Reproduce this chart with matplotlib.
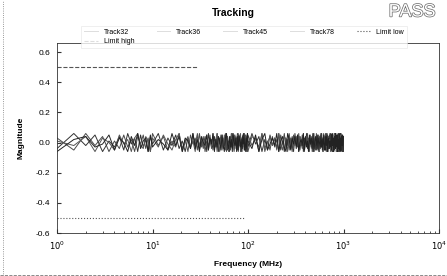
import numpy as np
import matplotlib
matplotlib.use("Agg")
import matplotlib.pyplot as plt
import matplotlib.patheffects as pe
from matplotlib.lines import Line2D

plt.rcParams['font.family'] = ['Liberation Sans', 'DejaVu Sans']

# ---------------------------------------------------------------- data
# sweep grid (MHz)
freq_mhz = np.concatenate([np.arange(1, 10, 0.5), np.arange(10, 100, 1.5), np.arange(100, 1001, 10)])

# magnitudes in hundredths
track32_c = [3, -5, 6, -2, 4, -6, 1, -4, 5, -3, 2, -6, 4,
             -1, 5, -4, 3, -6, 6, -2, 4, -5, 1, -3, 6, -4,
             2, -6, 5, -1, 3, -5, 6, -3, 4, -6, 1, -2, 5,
             -4, 6, -3, 2, -6, 4, -1, 5, -5, 3, -2, 6, -6,
             4, -3, 1, -5, 6, -4, 2, -6, 5, -1, 3, -5, 6,
             -2, 4, -6, 3, -4, 5, -1, 6, -5, 2, -3, 4, -6,
             5, -2, 3, -6, 6, -4, 1, -5, 4, -3, 2, -6, 5,
             -1, 6, -4, 2, -5, 3, -6, 5, -2, 4, -3, 6, -5,
             1, -4, 5, -6, 3, -2, 6, -5, 2, -1, 4, -6, 5,
             -3, 2, -5, 6, -4, 1, -6, 4, -2, 5, -3, 3, -6,
             6, -1, 4, -5, 2, -3, 5, -6, 3, -4, 6, -2, 1,
             -5, 4, -6, 2, -1, 5, -4, 6, -3, 3, -6, 1, -2,
             4, -6, 5, -3, 2, -5, 6, -1, 3, -4, 5, -6, 2]

track36_c = [-4, 6, -2, 5, -6, 1, -3, 4, -5, 6, -1, 3, -6,
             5, -3, 2, -6, 4, -1, 6, -5, 3, -2, 5, -4, 1,
             -6, 3, -4, 6, -2, 5, -5, 1, -3, 4, -6, 6, -1,
             2, -5, 4, -3, 6, -6, 3, -1, 5, -4, 2, -2, 6,
             -5, 1, -6, 4, -3, 6, -2, 5, -4, 3, -1, 6, -6,
             4, -2, 5, -5, 1, -4, 6, -3, 2, -6, 5, -1, 3,
             -3, 6, -1, 4, -6, 2, -5, 5, -2, 3, -4, 6, -5,
             1, -6, 3, -2, 5, -4, 4, -6, 6, -1, 2, -5, 4,
             -2, 5, -6, 3, -1, 6, -4, 2, -5, 4, -3, 1, -6,
             6, -4, 2, -5, 4, -2, 5, -6, 1, -3, 6, -5, 3,
             -1, 3, -5, 6, -6, 4, -2, 1, -4, 5, -3, 6, -2,
             5, -6, 1, -3, 2, -5, 6, -4, 3, -1, 4, -6, 5,
             -4, 2, -6, 5, -3, 6, -1, 4, -5, 2, -6, 3, -2]

track45_c = [1, -2, 4, -6, 3, 0, -5, 5, -1, 2, -6, 3, 6,
             -2, -4, 4, 1, -6, 3, -3, 5, -1, -5, 2, 6, -6,
             0, 4, -3, 1, -6, 6, -2, 3, -4, 2, 5, -5, 1,
             -3, 4, -4, 2, 6, -1, -6, 3, 0, -3, 5, -5, 1,
             4, -6, 2, -2, 6, -3, 3, -5, 0, 4, -4, 5, -1,
             -3, 2, 6, -6, 3, -2, 4, -5, 1, 5, -4, 3, -1,
             -6, 4, 2, -3, 6, -6, 0, 4, -2, 3, -5, 6, -1,
             -5, 4, 2, -6, 6, -2, 1, -4, 3, -1, 5, -6, 4,
             2, -3, 6, -5, 0, 4, -2, 3, -6, 5, -1, -4, 6,
             -6, 3, 1, -2, 5, -4, 4, -6, 2, -1, 6, -3, 0,
             3, -5, 5, -2, -4, 6, -6, 1, 4, -3, 2, -6, 5,
             -1, 4, -5, 3, -2, 6, -4, 0, 5, -6, 2, -3, 4,
             6, -6, 1, -4, 3, -1, 5, -5, 2, -2, 4, -6, 3]

track78_c = [-6, 2, 4, -3, -1, 5, -5, 3, 0, -6, 4, -2, 6,
             -4, 1, 3, -6, 5, -3, 2, -1, -5, 6, -2, 4, -6,
             3, 1, -4, 6, -4, 2, -6, 4, 0, -2, 5, -5, 3,
             -1, 6, -6, 2, -3, 4, 1, -5, 5, -2, -6, 3, 6,
             -1, -4, 4, -3, 2, -6, 6, 0, -2, 3, -6, 4, -5,
             5, 1, -3, 2, -6, 4, -1, 6, -5, -2, 3, -6, 6,
             1, -4, 5, -6, 2, 6, -5, -1, 3, -2, 6, -6, 1,
             4, -3, -6, 6, 2, -5, 3, -1, 4, -4, 5, -6, 0,
             2, -2, 6, -5, 4, -3, 1, -6, 5, -1, 3, -4, 6,
             -6, 1, 4, -2, 5, -5, 3, 0, -4, 6, -3, 2, -6,
             5, -1, -5, 4, -2, 6, -6, 2, 3, -4, 1, -3, 5,
             -5, 6, -2, 3, -6, 1, 4, -4, 6, -1, -3, 5, -6,
             2, -4, 6, -5, 1, 3, -6, 4, -2, 5, -1, -6, 4]

track_names = ['Track32', 'Track36', 'Track45', 'Track78']
track_colors = ['#4a4a4a', '#333333', '#555555', '#222222']

limit_high_freq = [1, 30]
limit_high = [0.5, 0.5]
limit_low_freq = [1, 90]
limit_low = [-0.5, -0.5]

x_ticks = [1, 10, 100, 1000, 10000]
x_ticklabels = ['$10^0$', '$10^1$', '$10^2$', '$10^3$', '$10^4$']
y_ticks = [-0.6, -0.4, -0.2, 0.0, 0.2, 0.4, 0.6]

# ---------------------------------------------------------------- figure
fig = plt.figure(figsize=(4.47, 2.76), dpi=100)
ax = fig.add_axes([57 / 447, 1 - 233 / 276, (439 - 57) / 447, (233 - 43) / 276])

handles = {}
for name, vals, col in zip(track_names, [track32_c, track36_c, track45_c, track78_c], track_colors):
    n = min(len(freq_mhz), len(vals))
    h, = ax.plot(freq_mhz[:n], np.array(vals[:n]) / 100.0, color=col, lw=0.7)
    handles[name] = h

handles['Limit high'], = ax.plot(limit_high_freq, limit_high, color='#555555', lw=0.8, ls='--')
handles['Limit low'], = ax.plot(limit_low_freq, limit_low, color='#555555', lw=0.8, ls=':')

ax.set_xscale('log')
ax.set_xlim(1, 10000)
ax.set_ylim(-0.6, 0.66)
ax.set_xticks(x_ticks)
ax.set_xticklabels(x_ticklabels)
ax.set_yticks(y_ticks)
ax.set_yticklabels([f'{v:.1f}' for v in y_ticks])
ax.tick_params(which='both', direction='in', labelsize=6, pad=5, color='#333333')
ax.tick_params(which='major', length=3)
ax.tick_params(which='minor', length=1.5)
for s in ax.spines.values():
    s.set_linewidth(0.6)
    s.set_color('#333333')

ax.set_xlabel('Frequency (MHz)', fontsize=6, fontweight='bold', labelpad=6)
ax.set_ylabel('Magnitude', fontsize=6, fontweight='bold', labelpad=8)

order = ['Track32', 'Limit high', 'Track36', 'Track45', 'Track78', 'Limit low']
leg = fig.legend([handles[k] for k in order], order, ncol=5, fontsize=5,
                 loc='center', bbox_to_anchor=(244 / 447, 1 - 37 / 276),
                 frameon=True, fancybox=False, edgecolor='#e4e4e4',
                 handlelength=2.0, handletextpad=0.8, columnspacing=3.2,
                 labelspacing=0.4, borderpad=0.4)
leg.get_frame().set_linewidth(0.5)
# track handles came out very faint in the original legend
for lh, name in zip(leg.legend_handles, order):
    if name != 'Limit low':
        lh.set_color('#dddddd')

fig.text(233 / 447, 1 - 13 / 276, 'Tracking', fontsize=7.5, fontweight='bold',
         ha='center', va='center')
fig.text(412 / 447, 1 - 12 / 276, 'PASS', fontsize=13, color='white',
         ha='center', va='center',
         path_effects=[pe.withStroke(linewidth=1.0, foreground='#666666')])

# figure border (left and bottom visible)
fig.add_artist(Line2D([3 / 447, 3 / 447], [0, 1], transform=fig.transFigure,
                      color='#777777', lw=0.6, ls=':'))
fig.add_artist(Line2D([0, 1], [1.5 / 276, 1.5 / 276], transform=fig.transFigure,
                      color='#777777', lw=0.6, ls='--'))

fig.savefig('out.png', dpi=100)
